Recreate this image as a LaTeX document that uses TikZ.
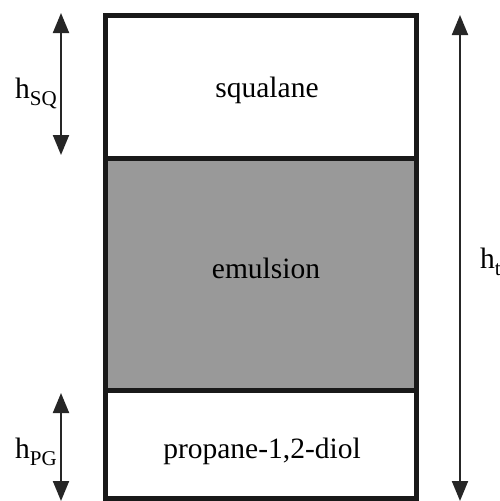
\documentclass[tikz,border=0pt]{standalone}
\usepackage{fontspec}
\setmainfont{Liberation Serif}
\usetikzlibrary{arrows.meta}
\tikzset{
  lbl/.style={inner sep=0pt, anchor=base, font=\fontsize{29.5}{32}\selectfont},
  hlbl/.style={inner sep=0pt, anchor=base west, font=\fontsize{29.5}{32}\selectfont},
  frame/.style={line width=5pt, draw=black!90},
  dim/.style={line width=2pt, draw=black!85, {Triangle[length=20pt,width=16pt]}-{Triangle[length=20pt,width=16pt]}},
  dimup/.style={line width=2pt, draw=black!85, {Triangle[length=20pt,width=16pt]}-{Triangle[length=20pt,width=16pt]}}
}
\newcommand{\subtx}[1]{\raisebox{-7pt}{\fontsize{21}{22}\selectfont #1}}
\begin{document}
\begin{tikzpicture}[x=1pt,y=-1pt]
\useasboundingbox (0,0) rectangle (499,501);
% layers
\fill[black!40] (105.5,158.5) rectangle (416,390.5);
\draw[frame] (105.5,15.5) rectangle (416,498.5);
\draw[frame] (105.5,158.5) -- (416,158.5);
\draw[frame] (105.5,390.5) -- (416,390.5);
% texts
\node[lbl] (sq) at (267,97) {squalane};
\node[lbl] (em) at (266,278) {emulsion};
\node[lbl] (pg) at (262,458) {propane-1,2-diol};
% dimension arrows
\coordinate (sqt) at (61,13);
\coordinate (sqb) at (61,155);
\coordinate (pgt) at (61,393);
\coordinate (pgb) at (61,501);
\coordinate (tt) at (460,15);
\coordinate (tb) at (460,501);
\draw[dim] (sqt) -- (sqb);
\draw[dim] (pgt) -- (pgb);
\draw[dim] (tt) -- (tb);
% labels
\node[hlbl] (hsq) at (15,98) {h\subtx{SQ}};
\node[hlbl] (hpg) at (15,458) {h\subtx{PG}};
\node[hlbl] (ht) at (480,268) {h\subtx{t}};
\end{tikzpicture}
\end{document}
